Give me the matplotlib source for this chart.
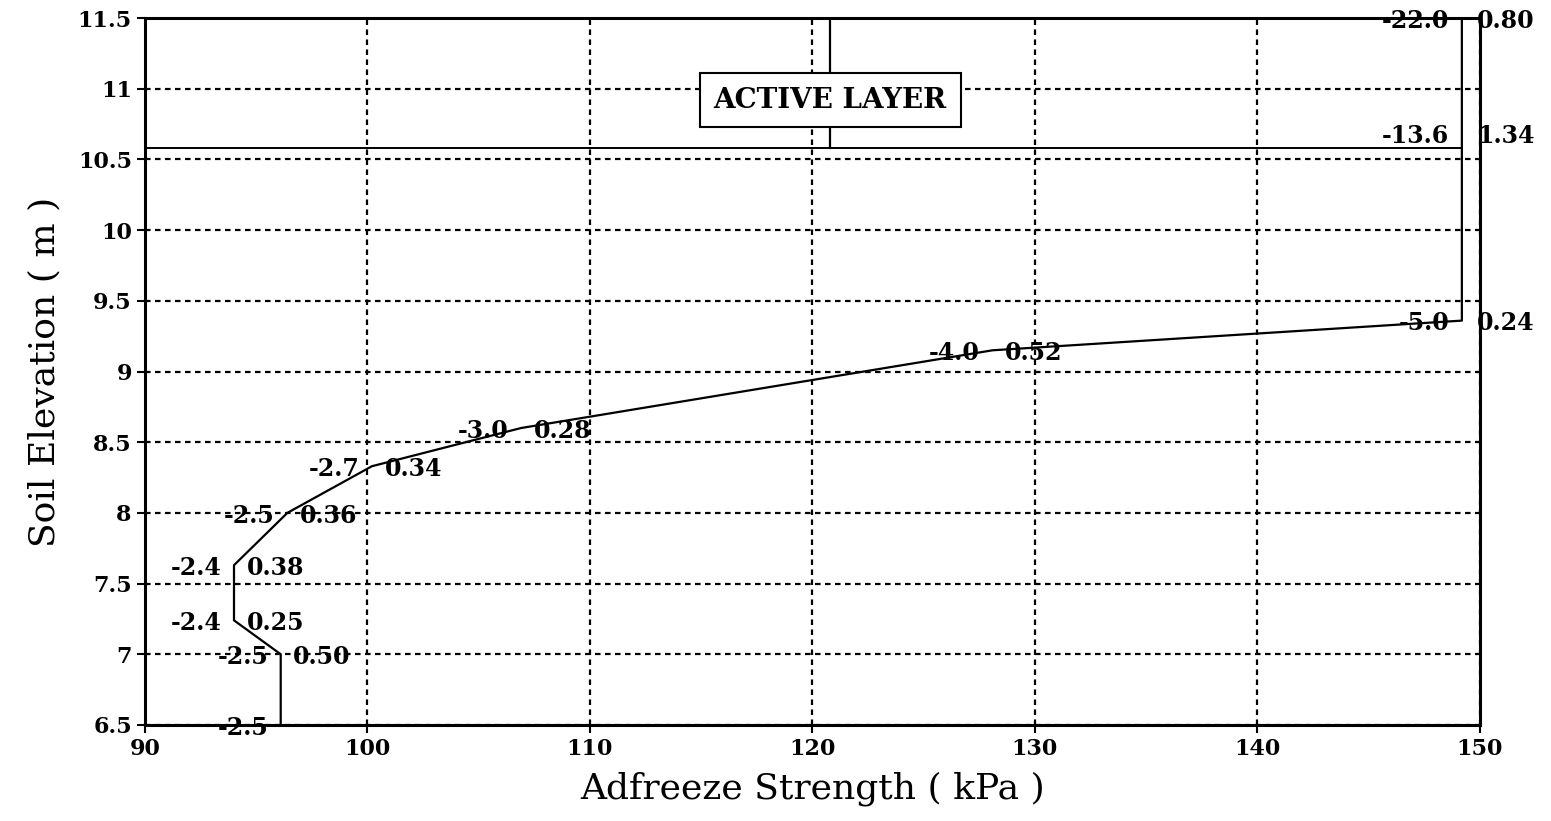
import numpy as np
import matplotlib
matplotlib.use('Agg')
import matplotlib.pyplot as plt

matplotlib.rcParams['font.family'] = 'serif'
matplotlib.rcParams['font.serif'] = ['DejaVu Serif']

# Adfreeze strength profile (kPa) vs soil elevation (m)
strength = [96.1, 96.1, 94.0, 94.0, 96.4, 100.2, 106.9, 128.1, 149.2, 149.2, 149.2]
elevation = [6.5, 7.0, 7.24, 7.63, 8.0, 8.33, 8.6, 9.15, 9.36, 10.58, 11.5]
temp_labels = ['-2.5', '-2.5', '-2.4', '-2.4', '-2.5', '-2.7', '-3.0', '-4.0', '-5.0', '-13.6', '-22.0']
water_labels = ['', '0.50', '0.25', '0.38', '0.36', '0.34', '0.28', '0.52', '0.24', '1.34', '0.80']

active_base = 10.58
active_x = 120.8

fig = plt.figure(figsize=(15.51, 8.21), dpi=100)
ax = fig.add_axes([0.0935, 0.117, 0.8605, 0.861])

ax.plot(strength, elevation, color='black', lw=1.6, zorder=3)

# active layer boundary and marker
ax.plot([90, strength[-1]], [active_base, active_base], color='black', lw=1.4, zorder=3)
ax.plot([active_x, active_x], [active_base, 11.5], color='black', lw=1.6, zorder=3)
ax.text(active_x, 10.92, 'ACTIVE LAYER', ha='center', va='center', fontsize=20,
        fontweight='bold', zorder=5,
        bbox=dict(boxstyle='square,pad=0.5', fc='white', ec='black', lw=1.5))

# point labels: temperature on the left, value on the right
for x, y, tl, wl in zip(strength, elevation, temp_labels, water_labels):
    dy = 0
    if y == active_base:
        dy = 11
    ax.annotate(tl, (x, y), xytext=(-9, dy - 2), textcoords='offset points',
                ha='right', va='center', fontsize=17, fontweight='bold', zorder=6,
                annotation_clip=False)
    if wl:
        off = 11 if x > 140 else 9
        ax.annotate(wl, (x, y), xytext=(off, dy - 2), textcoords='offset points',
                    ha='left', va='center', fontsize=17, fontweight='bold', zorder=6,
                    annotation_clip=False)

ax.set_xlim(90, 150)
ax.set_ylim(6.5, 11.5)
ax.set_xticks(np.arange(90, 151, 10))
ax.set_yticks(np.arange(6.5, 11.51, 0.5))
ax.set_yticklabels(['%g' % v for v in np.arange(6.5, 11.51, 0.5)])

ax.grid(True, color='black', linestyle=(0, (2.5, 2)), lw=1.6)
for s in ax.spines.values():
    s.set_linewidth(2.2)
ax.tick_params(direction='out', length=6, width=1.5, labelsize=16)
for lab in ax.get_xticklabels() + ax.get_yticklabels():
    lab.set_fontweight('bold')

ax.set_xlabel('Adfreeze Strength ( kPa )', fontsize=26, labelpad=8)
ax.set_ylabel('Soil Elevation ( m )', fontsize=26, labelpad=12)

fig.savefig('out.png', dpi=100)
